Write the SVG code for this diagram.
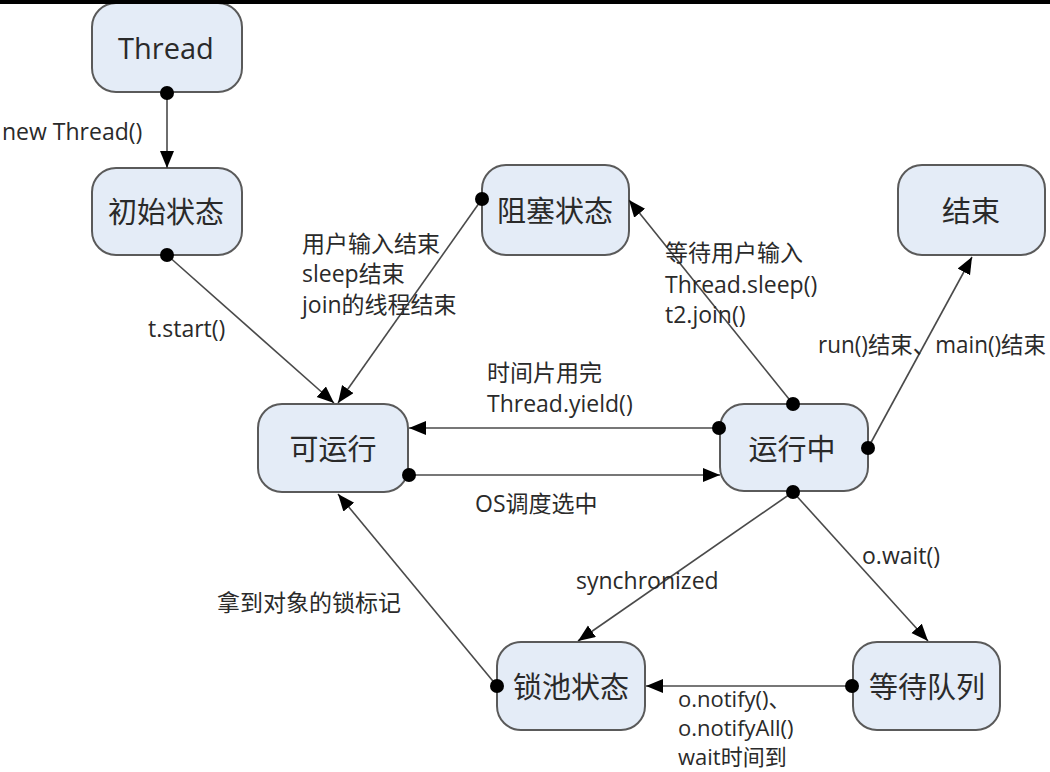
<svg xmlns="http://www.w3.org/2000/svg" width="1050" height="772" viewBox="0 0 1050 772">
<style>
.node rect{fill:#e4ecf7;stroke:#5a5a5a;stroke-width:2}
.node text{font-family:"Open Sans","Noto Sans CJK SC",sans-serif;font-size:29px;fill:#2a2a2a;text-anchor:middle;dominant-baseline:central}
.lbl{font-family:"Open Sans","Noto Sans CJK SC",sans-serif;font-size:23px;fill:#2a2a2a;dominant-baseline:central}
.sm{font-size:22px}
.conn line{stroke:#4a4a4a;stroke-width:1.6;marker-end:url(#arr)}
.dot{fill:#000}
</style>
<defs>
<marker id="arr" markerUnits="userSpaceOnUse" markerWidth="18" markerHeight="16" refX="17" refY="7" orient="auto"><path d="M0,0 L17,7 L0,14 Z" fill="#000"/></marker>
</defs>
<rect width="1050" height="772" fill="#ffffff"/>
<g id="n-thread" class="node"><rect x="92" y="3" width="150" height="89" rx="24"/><text x="166" y="47">Thread</text></g>
<g id="n-init" class="node"><rect x="92" y="168" width="150" height="87" rx="24"/><text x="166" y="211">初始状态</text></g>
<g id="n-blocked" class="node"><rect x="482" y="165" width="147" height="90" rx="24"/><text x="555" y="210">阻塞状态</text></g>
<g id="n-end" class="node"><rect x="898" y="165" width="147" height="90" rx="24"/><text x="971" y="210">结束</text></g>
<g id="n-runnable" class="node"><rect x="258" y="404" width="150" height="88" rx="24"/><text x="333" y="448">可运行</text></g>
<g id="n-running" class="node"><rect x="720" y="404" width="148" height="87" rx="24"/><text x="792" y="448">运行中</text></g>
<g id="n-lockpool" class="node"><rect x="497" y="642" width="148" height="88" rx="24"/><text x="571" y="686">锁池状态</text></g>
<g id="n-waitq" class="node"><rect x="853" y="642" width="147" height="88" rx="24"/><text x="927" y="686">等待队列</text></g>
<g id="connectors" class="conn">
<line x1="167" y1="93" x2="167" y2="168"/>
<line x1="167" y1="255" x2="334" y2="403"/>
<line x1="482" y1="199" x2="338" y2="403"/>
<line x1="793" y1="404" x2="629" y2="200"/>
<line x1="868" y1="448" x2="972" y2="257"/>
<line x1="719" y1="428" x2="409" y2="428"/>
<line x1="409" y1="475" x2="720" y2="475"/>
<line x1="793" y1="492" x2="578" y2="641"/>
<line x1="793" y1="492" x2="928" y2="641"/>
<line x1="852" y1="686" x2="646" y2="686"/>
<line x1="497" y1="686" x2="338" y2="494"/>
<circle class="dot" cx="167" cy="93" r="7"/>
<circle class="dot" cx="167" cy="255" r="7"/>
<circle class="dot" cx="482" cy="199" r="7"/>
<circle class="dot" cx="793" cy="404" r="7"/>
<circle class="dot" cx="868" cy="448" r="7"/>
<circle class="dot" cx="719" cy="428" r="7"/>
<circle class="dot" cx="409" cy="475" r="7"/>
<circle class="dot" cx="793" cy="492" r="7"/>
<circle class="dot" cx="852" cy="686" r="7"/>
<circle class="dot" cx="497" cy="686" r="7"/>
</g>
<g id="labels">
<text class="lbl" x="2" y="131">new Thread()</text>
<text class="lbl" x="148" y="328">t.start()</text>
<text class="lbl" x="302" y="243">用户输入结束</text>
<text class="lbl" x="302" y="273">sleep结束</text>
<text class="lbl" x="302" y="304">join的线程结束</text>
<text class="lbl" x="665" y="252">等待用户输入</text>
<text class="lbl" x="665" y="284">Thread.sleep()</text>
<text class="lbl" x="665" y="314">t2.join()</text>
<text class="lbl" x="818" y="344" textLength="228" lengthAdjust="spacingAndGlyphs">run()结束、main()结束</text>
<text class="lbl" x="487" y="372">时间片用完</text>
<text class="lbl" x="487" y="403">Thread.yield()</text>
<text class="lbl" x="475" y="503">OS调度选中</text>
<text class="lbl" x="576" y="580">synchronized</text>
<text class="lbl" x="862" y="555">o.wait()</text>
<text class="lbl" x="217" y="602">拿到对象的锁标记</text>
<text class="lbl sm" x="678" y="698">o.notify()、</text>
<text class="lbl sm" x="678" y="727">o.notifyAll()</text>
<text class="lbl sm" x="678" y="756">wait时间到</text>
</g>
<rect x="0" y="0" width="1050" height="4" fill="#000"/>
</svg>
